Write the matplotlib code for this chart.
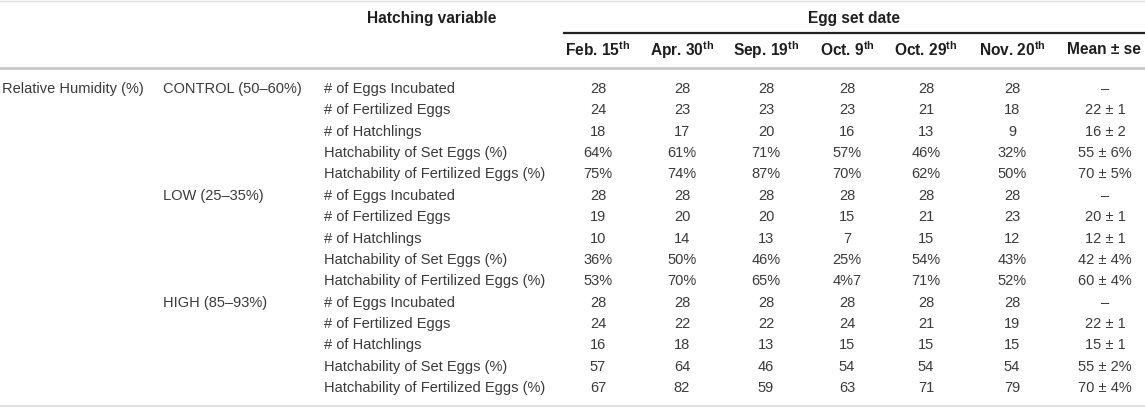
import matplotlib.pyplot as plt

# table content
dates = ['Feb. 15', 'Apr. 30', 'Sep. 19', 'Oct. 9', 'Oct. 29', 'Nov. 20']
mean_header = 'Mean ± se'
factor = 'Relative Humidity (%)'
treatments = ['CONTROL (50–60%)', 'LOW (25–35%)', 'HIGH (85–93%)']
variables = ['# of Eggs Incubated', '# of Fertilized Eggs', '# of Hatchlings',
             'Hatchability of Set Eggs (%)', 'Hatchability of Fertilized Eggs (%)']

control = [['28', '28', '28', '28', '28', '28', '–'],
           ['24', '23', '23', '23', '21', '18', '22 ± 1'],
           ['18', '17', '20', '16', '13', '9', '16 ± 2'],
           ['64%', '61%', '71%', '57%', '46%', '32%', '55 ± 6%'],
           ['75%', '74%', '87%', '70%', '62%', '50%', '70 ± 5%']]
low = [['28', '28', '28', '28', '28', '28', '–'],
       ['19', '20', '20', '15', '21', '23', '20 ± 1'],
       ['10', '14', '13', '7', '15', '12', '12 ± 1'],
       ['36%', '50%', '46%', '25%', '54%', '43%', '42 ± 4%'],
       ['53%', '70%', '65%', '4%7', '71%', '52%', '60 ± 4%']]
high = [['28', '28', '28', '28', '28', '28', '–'],
        ['24', '22', '22', '24', '21', '19', '22 ± 1'],
        ['16', '18', '13', '15', '15', '15', '15 ± 1'],
        ['57', '64', '46', '54', '54', '54', '55 ± 2%'],
        ['67', '82', '59', '63', '71', '79', '70 ± 4%']]
blocks = [control, low, high]

W, H = 1145, 408
plt.rcParams['font.family'] = ['Liberation Sans', 'DejaVu Sans']
fig = plt.figure(figsize=(W / 100, H / 100), dpi=100)
ax = fig.add_axes([0, 0, 1, 1])
ax.set_xlim(0, W)
ax.set_ylim(H, 0)
ax.axis('off')

txt = '#3a3a3a'
head = '#1e1e1e'
fs = 10.5      # body
fs_h = 11.2    # header

# layout (pixels)
col_x = [598, 682, 766, 847, 926, 1012, 1105]
x_factor, x_treat, x_var = 2, 163, 324
row0, dy = 89, 21.36

# rules
ax.plot([0, W], [1, 1], color='#e0e0e0', lw=1)
ax.plot([564, W], [33, 33], color='#222222', lw=1.6)
ax.plot([0, W], [68, 68], color='#c8c8c8', lw=2)
ax.plot([0, W], [406, 406], color='#dcdcdc', lw=1.2)

# headers
ax.text(432, 19, 'Hatching variable', ha='center', va='center',
        fontsize=fs_h, fontweight='bold', color=head)
ax.text(854, 19, 'Egg set date', ha='center', va='center',
        fontsize=fs_h, fontweight='bold', color=head)
for x, d in zip(col_x[:-1], dates):
    ax.text(x, 50, d + r'$^{\mathregular{th}}$', ha='center', va='center',
            fontsize=fs_h, fontweight='bold', color=head)
ax.text(1067, 50, mean_header, ha='left', va='center',
        fontsize=fs_h, fontweight='bold', color=head)

# body
ax.text(x_factor, row0, factor, ha='left', va='center', fontsize=fs, color=txt)
r = 0
for treat, block in zip(treatments, blocks):
    ax.text(x_treat, row0 + r * dy, treat, ha='left', va='center',
            fontsize=fs, color=txt)
    for var, vals in zip(variables, block):
        y = row0 + r * dy
        ax.text(x_var, y, var, ha='left', va='center', fontsize=fs, color=txt)
        for x, v in zip(col_x, vals):
            ax.text(x, y, v, ha='center', va='center', fontsize=fs, color=txt)
        r += 1

fig.savefig('out.png', dpi=100)
